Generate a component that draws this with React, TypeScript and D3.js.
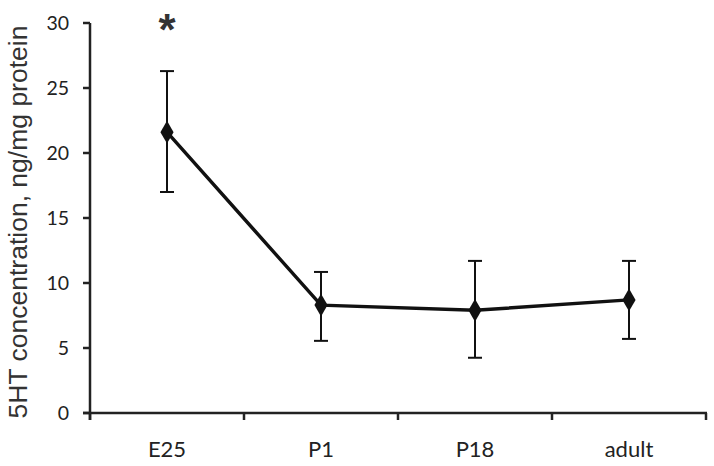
import React from "react";
import * as d3 from "d3";

const categories = ["E25", "P1", "P18", "adult"];
const means = [21.6, 8.3, 7.9, 8.7];
const upper = [26.3, 10.85, 11.7, 11.7];
const lower = [17.0, 5.55, 4.25, 5.7];
const yTicks = [0, 5, 10, 15, 20, 25, 30];
const significance = ["*", "", "", ""];

export default function App() {
  const W = 714, H = 466;
  const left = 90, right = 706, top = 23, bottom = 413;
  const x = d3.scaleBand<string>().domain(categories).range([left, right]).padding(0);
  const y = d3.scaleLinear().domain([0, 30]).range([bottom, top]);
  const cx = (c: string) => (x(c) ?? 0) + x.bandwidth() / 2;
  const line = d3.line<number>().x((_, i) => cx(categories[i])).y((d) => y(d));
  const diamond = d3.symbol().type(d3.symbolDiamond).size(150)();
  const tickFont = "Lato, 'Open Sans', sans-serif";
  const ink = "#111";
  const bounds = [left, ...categories.map((c) => (x(c) ?? 0) + x.bandwidth())];

  return (
    <svg width={W} height={H} style={{ position: "absolute", left: 0, top: 0, background: "#fff" }}>
      {/* Y axis */}
      <line x1={left} x2={left} y1={top} y2={bottom + 7} stroke="#222" strokeWidth={2.5} />
      {yTicks.map((t) => (
        <g key={t}>
          <line x1={left - 7} x2={left} y1={y(t)} y2={y(t)} stroke="#222" strokeWidth={2.5} />
          <text x={69} y={y(t)} dy="0.36em" textAnchor="end" fontFamily={tickFont} fontSize={19.5} fill="#222">
            {t}
          </text>
        </g>
      ))}
      {/* X axis */}
      <line x1={left - 7} x2={right + 1} y1={bottom} y2={bottom} stroke="#222" strokeWidth={2.5} />
      {bounds.map((b, i) => (
        <line key={i} x1={b} x2={b} y1={bottom} y2={bottom + 7} stroke="#222" strokeWidth={2.5} />
      ))}
      {categories.map((c) => (
        <text key={c} x={cx(c)} y={457} textAnchor="middle" fontFamily={tickFont} fontSize={22} fill="#222">
          {c}
        </text>
      ))}
      {/* Y title */}
      <text
        transform={`translate(27, 222) rotate(-90)`}
        textAnchor="middle"
        fontFamily="'Liberation Sans', Arial, sans-serif"
        fontSize={26.5}
        fill="#333"
      >
        5HT concentration, ng/mg protein
      </text>
      {/* Error bars */}
      {categories.map((c, i) => (
        <g key={c} stroke={ink} strokeWidth={2}>
          <line x1={cx(c)} x2={cx(c)} y1={y(upper[i])} y2={y(lower[i])} />
          <line x1={cx(c) - 7} x2={cx(c) + 7} y1={y(upper[i])} y2={y(upper[i])} />
          <line x1={cx(c) - 7} x2={cx(c) + 7} y1={y(lower[i])} y2={y(lower[i])} />
        </g>
      ))}
      {/* Line */}
      <path d={line(means) ?? ""} fill="none" stroke={ink} strokeWidth={3.4} />
      {means.map((m, i) => (
        <path key={i} d={diamond ?? ""} transform={`translate(${cx(categories[i])}, ${y(m)})`} fill={ink} />
      ))}
      {significance.map((s, i) =>
        s ? (
          <text key={i} x={cx(categories[i])} y={45} textAnchor="middle" fontFamily="'Liberation Sans', Arial, sans-serif" fontWeight="bold" fontSize={44} fill="#333">
            {s}
          </text>
        ) : null
      )}
    </svg>
  );
}
